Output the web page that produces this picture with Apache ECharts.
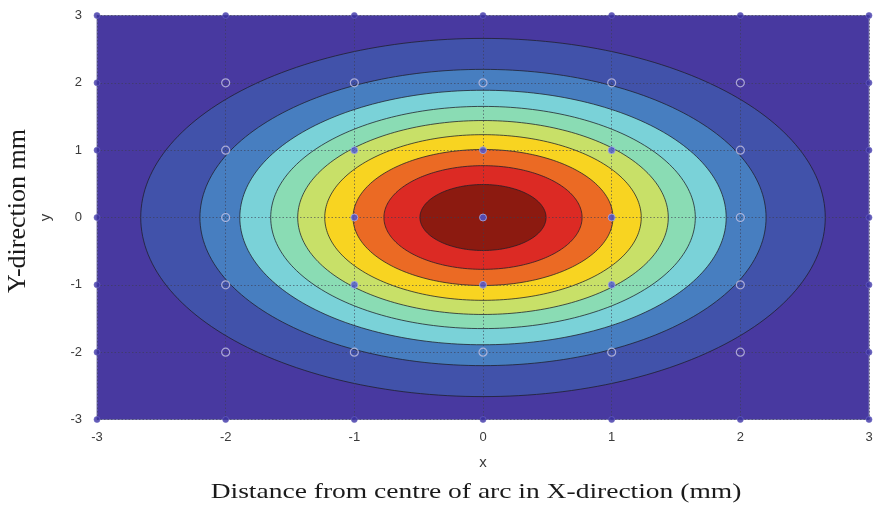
<!DOCTYPE html>
<html>
<head>
<meta charset="utf-8">
<style>
  html, body { margin: 0; padding: 0; background: #ffffff; }
  #chart { width: 877px; height: 511px; }
</style>
<script src="https://cdn.jsdelivr.net/npm/echarts@6/dist/echarts.min.js"></script>
</head>
<body>
<div id="chart"></div>
<script>
// Axis ticks (mm)
const xTicks = [-3, -2, -1, 0, 1, 2, 3];
const yTicks = [-3, -2, -1, 0, 1, 2, 3];

// Contour boundaries: radius (mm) of each filled level, outermost first
const contourRadii = [2.66, 2.20, 1.89, 1.65, 1.44, 1.23, 1.01, 0.77, 0.49];

// Mesh sample positions (mm) shown as markers
const meshX = [-3, -2, -1, 0, 1, 2, 3];
const meshY = [-3, -2, -1, 0, 1, 2, 3];

// Fill colours, lowest level (background) to peak
const baseColor = '#4839a0';
const levelColors = ['#4152aa', '#477ec0', '#7ad2d8', '#8adcb4', '#c8e068',
                     '#f8d421', '#eb6a24', '#dc2a24', '#8c1a10'];

// Split mesh points into rings around the centre
const innerDots = [], ringDots = [], edgeDots = [];
meshX.forEach(function (x) {
  meshY.forEach(function (y) {
    const ring = Math.max(Math.abs(x), Math.abs(y));
    if (ring <= 1) innerDots.push([x, y]);
    else if (ring === 2) ringDots.push([x, y]);
    else edgeDots.push([x, y]);
  });
});

const chart = echarts.init(document.getElementById('chart'), null, { renderer: 'canvas' });

const tickFont = { color: '#3a3a3a', fontSize: 13, fontFamily: 'Liberation Sans, Arial, sans-serif' };

chart.setOption({
  animation: false,
  backgroundColor: '#ffffff',
  grid: {
    left: 97, right: 8, top: 15.5, bottom: 91.5,
    show: true, backgroundColor: baseColor, borderColor: '#7a78b0', borderWidth: 1
  },
  xAxis: {
    type: 'value', min: -3, max: 3, interval: 1, z: 5,
    axisLine: { show: false },
    axisTick: { show: false },
    axisLabel: Object.assign({ margin: 11, formatter: function (v) { return xTicks.indexOf(v) >= 0 ? String(v) : ''; } }, tickFont),
    splitLine: { show: true, lineStyle: { type: [1.5, 2], color: 'rgba(60,60,80,0.75)', width: 0.8 } },
    name: 'x', nameLocation: 'middle', nameGap: 36,
    nameTextStyle: { color: '#3a3a3a', fontSize: 15, fontFamily: 'Liberation Sans, Arial, sans-serif' }
  },
  yAxis: {
    type: 'value', min: -3, max: 3, interval: 1, z: 5,
    axisLine: { show: false },
    axisTick: { show: false },
    axisLabel: Object.assign({ margin: 15, formatter: function (v) { return yTicks.indexOf(v) >= 0 ? String(v) : ''; } }, tickFont),
    splitLine: { show: true, lineStyle: { type: [1.5, 2], color: 'rgba(60,60,80,0.75)', width: 0.8 } },
    name: 'y', nameLocation: 'middle', nameGap: 44, nameRotate: 90,
    nameTextStyle: { color: '#3a3a3a', fontSize: 15, fontFamily: 'Liberation Sans, Arial, sans-serif' }
  },
  graphic: [
    {
      type: 'text', z: 10,
      rotation: Math.PI / 2,
      x: 18, y: 211,
      style: {
        text: 'Y-direction mm', fill: '#1a1a1a',
        font: '26px "Liberation Serif", "Times New Roman", serif',
        textAlign: 'center', textVerticalAlign: 'middle'
      }
    },
    {
      type: 'text', z: 10,
      x: 476, y: 492,
      scaleX: 1.25,
      style: {
        text: 'Distance from centre of arc in X-direction (mm)', fill: '#1a1a1a',
        font: '22px "Liberation Serif", "Times New Roman", serif',
        textAlign: 'center', textVerticalAlign: 'middle'
      }
    }
  ],
  series: [
    {
      type: 'custom',
      coordinateSystem: 'cartesian2d',
      clip: true,
      z: 2,
      encode: { x: 0, y: 1 },
      data: contourRadii.map(function (r) { return [r, 0]; }),
      renderItem: function (params, api) {
        const r = api.value(0);
        const n = 240;
        const pts = [];
        for (let i = 0; i < n; i++) {
          const t = (i / n) * Math.PI * 2;
          pts.push(api.coord([r * Math.cos(t), r * Math.sin(t)]));
        }
        return {
          type: 'polygon',
          shape: { points: pts },
          style: { fill: levelColors[params.dataIndex], stroke: 'rgba(30,30,40,0.85)', lineWidth: 0.9 }
        };
      }
    },
    {
      type: 'scatter', z: 6, symbol: 'circle', symbolSize: 7,
      data: innerDots,
      itemStyle: { color: '#4a55d6', borderColor: '#a9aee6', borderWidth: 1 }
    },
    {
      type: 'scatter', z: 6, symbol: 'circle', symbolSize: 8,
      data: ringDots,
      itemStyle: { color: 'rgba(0,0,0,0)', borderColor: '#c4c2e4', borderWidth: 1.2 }
    },
    {
      type: 'scatter', z: 6, symbol: 'circle', symbolSize: 6,
      data: edgeDots,
      itemStyle: { color: '#3b31a4', borderColor: '#6a64c0', borderWidth: 0.8 }
    }
  ]
});
</script>
</body>
</html>
